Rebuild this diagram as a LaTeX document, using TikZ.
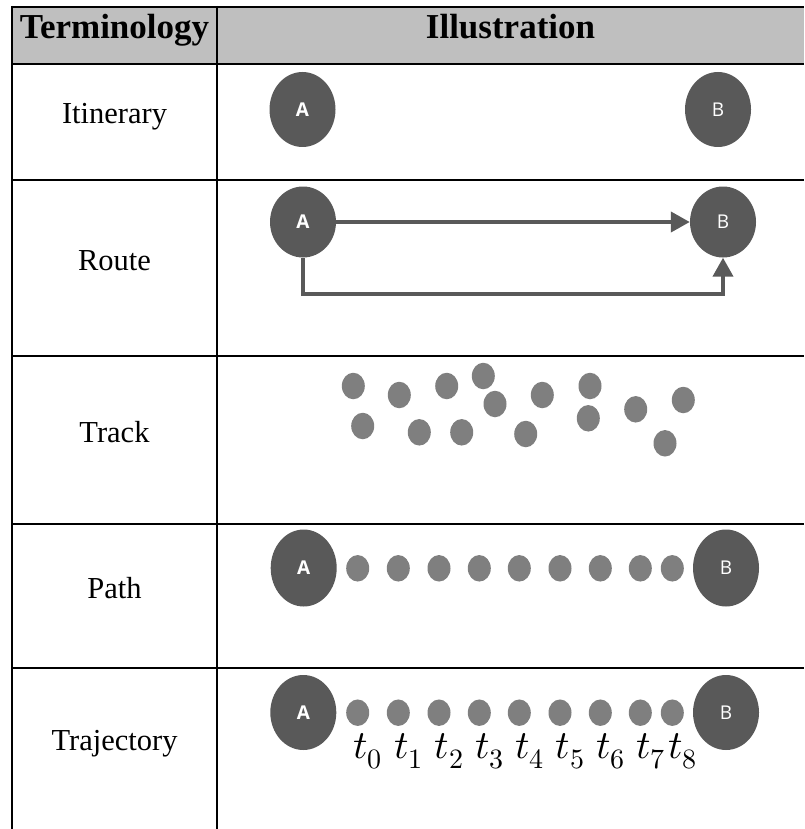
\documentclass[tikz,border=0pt]{standalone}
\usepackage{fontspec}
\usepackage{unicode-math}
\setmainfont{Liberation Serif}
\setmathfont{Latin Modern Math}
\newfontfamily\stopfont{Open Sans}
\usetikzlibrary{shapes.geometric,arrows.meta}
\definecolor{hdrgray}{HTML}{BFBFBF}
\definecolor{stopgray}{HTML}{595959}
\definecolor{dotgray}{HTML}{7F7F7F}
\begin{document}
\begin{tikzpicture}[x=1pt,y=-1pt,
  rule/.style={line width=2pt,black},
  term/.style={inner sep=0pt,anchor=base,font=\fontsize{30.5}{34}\selectfont},
  head/.style={term,font=\bfseries\fontsize{35}{38}\selectfont},
  stop/.style={ellipse,fill=stopgray,inner sep=0pt,minimum width=66pt,
    minimum height=75pt,text=white,font=\stopfont\fontsize{19}{19}\selectfont},
  dot/.style={ellipse,fill=dotgray,inner sep=0pt,minimum width=23pt,minimum height=26.5pt},
  link/.style={draw=stopgray,line width=4pt,-{Triangle[length=19pt,width=20pt]}},
  tlab/.style={inner sep=0pt,anchor=base west,font=\fontsize{40}{44}\selectfont}]
\useasboundingbox (0,0) rectangle (804,829);

% table frame
\fill[hdrgray] (12,7) rectangle (804,64);
\draw[rule] (11,7) -- (804,7);
\foreach \yy in {64,180,356,524,668} \draw[rule] (12,\yy) -- (804,\yy);
\draw[rule] (12,6) -- (12,829);
\draw[rule] (217,6) -- (217,829);

% headings and terms
\node[head] (hterm) at (114.5,39) {Terminology};
\node[head] (hill) at (510.5,39) {Illustration};
\node[term] (itin) at (114.5,123.5) {Itinerary};
\node[term] (route) at (114.5,270) {Route};
\node[term] (track) at (114.5,442) {Track};
\node[term] (path) at (114.5,598) {Path};
\node[term] (traj) at (114.5,750.5) {Trajectory};

% itinerary
\node[stop] (iA) at (302.5,109.5) {\bfseries A};
\node[stop] (iB) at (718,109.5) {B};

% route
\node[stop,minimum height=71pt] (rA) at (303,222) {\bfseries A};
\node[stop,minimum height=71pt] (rB) at (723,222) {B};
\coordinate (rlow) at (0,294);
\draw[link] (rA) -- (rB);
\draw[link] (rA.south) -- (rA.south |- rlow) -| (rB.south);

% track
\foreach \n/\xx/\yy in {1/353.3/386,2/399.3/395,3/446.7/386,4/483.3/376,5/495/404,
  6/542.3/395,7/590/386,8/362.7/426,9/419.3/432.3,10/461.7/432.3,11/525.7/434,
  12/588.3/418.3,13/635.7/409.3,14/683.3/400,15/665/443.3}
  \node[dot] (k\n) at (\xx,\yy) {};

% path
\node[stop,minimum height=77pt] (pA) at (303.7,568) {\bfseries A};
\node[stop,minimum height=77pt] (pB) at (726,568) {B};
\foreach \n/\xx in {1/357.7,2/398.3,3/439,4/479.3,5/519.3,6/560,7/600.3,8/640.3,9/672.3}
  \node[dot] (p\n) at (\xx,568.3) {};

% trajectory
\node[stop] (jA) at (303.3,712.5) {\bfseries A};
\node[stop] (jB) at (726,712.5) {B};
\foreach \n/\xx in {1/357.7,2/398.3,3/439,4/479.3,5/519.3,6/560,7/600.3,8/640.3,9/672.3}
  \node[dot] (j\n) at (\xx,712.7) {};
\foreach \n [evaluate=\n as \k using int(\n-1)] in {1,...,9}
  \node[tlab] (t\n) at ([xshift=-4.5pt,yshift=-45.5pt]j\n.center) {$t_{\k}$};
\end{tikzpicture}
\end{document}
